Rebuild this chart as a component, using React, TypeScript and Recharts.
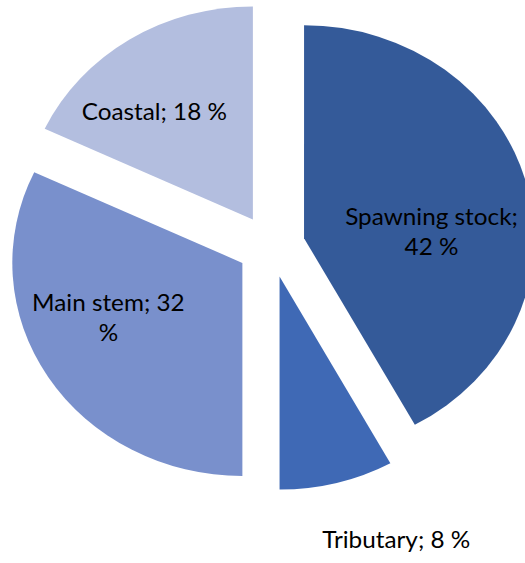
import React from 'react';
import { PieChart, Pie, Cell } from 'recharts';

// ---- data ----
const categories = ['Spawning stock', 'Tributary', 'Main stem', 'Coastal'];
const shares = [42, 8, 32, 18];

// ---- style ----
const colors = ['#345A99', '#3F69B5', '#7990CC', '#B3BEDF'];
const CX = 251;
const CY = 246;
const R = 213;
const EXPLODE = 31.5;
const STRETCH_X = 1.08;
const FONT = 'Lato, "Open Sans", sans-serif';
const FONT_SIZE = 22.5;
const LINE_HEIGHT = 29.5;
// label placement: radius fraction and angle shift (deg, clockwise) from slice middle
const labelRadius = [0.555, 1.337, 0.637, 0.662];
const labelShift = [11.4, -7.9, 8.5, -7.9];
// number of words on the first label line (rest wraps)
const labelFirstLineWords = [2, 99, 3, 99];

const RAD = Math.PI / 180;
const data = categories.map((name, i) => ({ name, value: shares[i] }));
const total = shares.reduce((a, b) => a + b, 0);
const midAngles = shares.map((v, i) => {
  const before = shares.slice(0, i).reduce((a, b) => a + b, 0);
  return 90 - ((before + v / 2) / total) * 360;
});

const makeLabel = (slice: number) => (props: any) => {
  if (props.index !== slice) return null;
  const ang = props.midAngle - labelShift[slice];
  const r = labelRadius[slice] * props.outerRadius;
  const x = props.cx + r * Math.cos(-ang * RAD);
  const y = props.cy + r * Math.sin(-ang * RAD);
  const d = data[slice];
  const words = `${d.name}; ${d.value} %`.split(' ');
  const n1 = labelFirstLineWords[slice];
  const lines = [words.slice(0, n1).join(' ')];
  if (words.length > n1) lines.push(words.slice(n1).join(' '));
  const n = lines.length;
  return (
    <text
      key={`lbl-${slice}`}
      x={x}
      y={y}
      textAnchor="middle"
      fill="#000"
      fontFamily={FONT}
      fontSize={FONT_SIZE}
    >
      {lines.map((ln, k) => (
        <tspan key={k} x={x} y={y + (k - (n - 1) / 2) * LINE_HEIGHT + 0.36 * FONT_SIZE}>
          {ln}
        </tspan>
      ))}
    </text>
  );
};

export default function App() {
  return (
    <div style={{ position: 'absolute', left: 0, top: 0, width: 525, height: 563, overflow: 'hidden', background: '#fff' }}>
      <div style={{ transform: `scaleX(${STRETCH_X})`, transformOrigin: '0 0', width: 486, height: 563 }}>
        <PieChart width={486} height={563} margin={{ top: 0, right: 0, bottom: 0, left: 0 }}>
          {categories.map((c, s) => (
            <Pie
              key={c}
              data={data}
              dataKey="value"
              nameKey="name"
              cx={CX + EXPLODE * Math.cos(-midAngles[s] * RAD)}
              cy={CY + EXPLODE * Math.sin(-midAngles[s] * RAD)}
              outerRadius={R}
              innerRadius={0}
              startAngle={90}
              endAngle={-270}
              stroke="none"
              isAnimationActive={false}
              labelLine={false}
              label={makeLabel(s)}
            >
              {data.map((_, i) => (
                <Cell key={i} fill={i === s ? colors[i] : 'none'} stroke="none" />
              ))}
            </Pie>
          ))}
        </PieChart>
      </div>
    </div>
  );
}
